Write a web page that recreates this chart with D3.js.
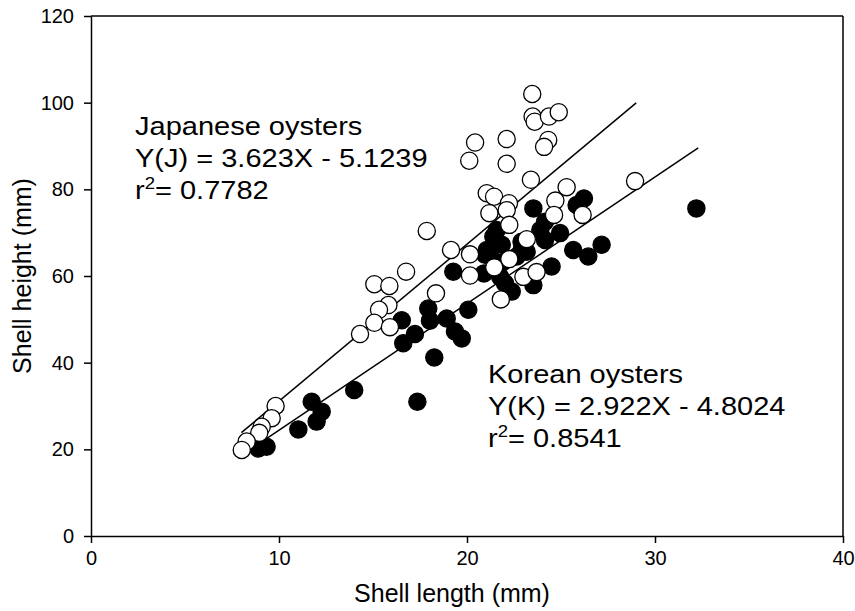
<!DOCTYPE html>
<html>
<head>
<meta charset="utf-8">
<script src="https://cdn.jsdelivr.net/npm/d3@7"></script>
<style>
  html, body { margin: 0; padding: 0; background: #fff; }
  svg { display: block; font-family: "Liberation Sans", Arial, sans-serif; }
</style>
</head>
<body>
<svg id="chart" width="855" height="611"></svg>
<script>
// ---- data ----
const xTicks = [0, 10, 20, 30, 40];
const yTicks = [0, 20, 40, 60, 80, 100, 120];

// Japanese oysters (open circles)
const japanX = [23.47, 23.49, 23.6, 24.36, 24.88, 24.32, 24.1, 20.43, 20.12, 22.11, 22.11, 23.4,
  17.86, 21.05, 21.44, 22.23, 21.19, 22.11, 22.25, 23.18, 25.3, 24.7, 24.63, 26.15, 28.94,
  19.15, 20.16, 22.25, 21.45, 20.16, 23.0, 23.7, 21.8, 18.35, 16.76, 15.07, 15.87, 15.82,
  15.32, 15.07, 15.9, 14.31, 9.82, 9.61, 9.08, 8.95, 8.28, 8.02];
const japanY = [102.0, 96.8, 95.6, 96.8, 97.8, 91.4, 89.8, 90.8, 86.6, 91.6, 85.9, 82.2,
  70.4, 79.1, 78.3, 76.8, 74.5, 75.2, 71.8, 68.5, 80.5, 77.4, 74.1, 74.1, 81.9,
  66.0, 65.0, 63.9, 62.0, 60.1, 59.8, 60.9, 54.6, 56.0, 61.0, 58.1, 57.7, 53.3,
  52.2, 49.2, 48.2, 46.6, 30.0, 27.2, 25.2, 23.8, 21.8, 19.85];

// Korean oysters (filled circles)
const koreaX = [8.9, 9.34, 11.03, 11.74, 12.27, 12.0, 14.0, 17.36, 18.26, 16.61, 16.53, 17.23,
  17.94, 18.03, 18.92, 19.72, 19.36, 20.07, 19.27, 20.96, 21.4, 21.58, 21.85, 21.2, 22.02,
  22.38, 23.53, 24.5, 24.15, 24.95, 25.65, 26.45, 27.16, 22.64, 22.9, 23.53, 26.22, 25.83,
  32.2, 21.76, 22.9, 21.9, 23.9, 24.15, 21.05, 20.9, 23.17];
const koreaY = [20.2, 20.6, 24.6, 31.0, 28.7, 26.4, 33.7, 31.0, 41.2, 44.5, 49.8, 46.6,
  52.5, 49.7, 50.2, 45.6, 47.2, 52.2, 61.0, 64.9, 69.1, 70.6, 67.2, 65.2, 58.3,
  56.4, 57.9, 62.2, 68.3, 69.9, 66.0, 64.5, 67.2, 64.5, 67.9, 75.6, 77.9, 76.4,
  75.6, 59.8, 66.0, 63.2, 70.6, 72.5, 66.0, 60.6, 65.6];

// regression fits (from the chart's equations) and their x-extent
const japanFit = { slope: 3.623, intercept: -5.1239, xRange: [8.0, 29.0] };
const koreaFit = { slope: 2.922, intercept: -4.8024, xRange: [8.9, 32.3] };

const japanLabel = ["Japanese oysters", "Y(J) = 3.623X - 5.1239", "0.7782"];
const koreaLabel = ["Korean oysters", "Y(K) = 2.922X - 4.8024", "0.8541"];

// ---- layout ----
const L = 91, R = 843, T = 16, B = 536;
const svg = d3.select("#chart");
const x = d3.scaleLinear().domain([0, 40]).range([L, R]);
const y = d3.scaleLinear().domain([0, 120]).range([B, T]);

// axes
const xAxis = svg.append("g").attr("transform", `translate(0,${B})`)
  .call(d3.axisBottom(x).tickValues(xTicks).tickSize(7).tickPadding(8).tickSizeOuter(0));
const yAxis = svg.append("g").attr("transform", `translate(${L},0)`)
  .call(d3.axisLeft(y).tickValues(yTicks).tickSize(7).tickPadding(10).tickSizeOuter(0));
[xAxis, yAxis].forEach(a => {
  a.select(".domain").attr("stroke", "#000").attr("stroke-width", 1.5);
  a.selectAll(".tick line").attr("stroke", "#000").attr("stroke-width", 1.5);
  a.selectAll(".tick text").attr("fill", "#000").style("font-size", "20px")
   .style("font-family", '"Liberation Sans", Arial, sans-serif');
});
// top and right frame
svg.append("line").attr("x1", L).attr("x2", R).attr("y1", T).attr("y2", T)
  .attr("stroke", "#000").attr("stroke-width", 1.5);
svg.append("line").attr("x1", R).attr("x2", R).attr("y1", T).attr("y2", B)
  .attr("stroke", "#000").attr("stroke-width", 1.5);

// axis titles
svg.append("text").attr("x", 452).attr("y", 602).attr("text-anchor", "middle")
  .style("font-size", "25px").text("Shell length (mm)");
svg.append("text").attr("transform", "translate(31,276) rotate(-90)")
  .attr("text-anchor", "middle").style("font-size", "25px").text("Shell height (mm)");

// regression lines
[japanFit, koreaFit].forEach(f => {
  const pts = f.xRange.map(v => [x(v), y(f.slope * v + f.intercept)]);
  svg.append("path").attr("d", d3.line()(pts))
    .attr("fill", "none").attr("stroke", "#000").attr("stroke-width", 1.5);
});

// points
const rad = 8.6;
svg.append("g").selectAll("circle").data(koreaX.map((v, i) => [v, koreaY[i]])).join("circle")
  .attr("cx", d => x(d[0])).attr("cy", d => y(d[1])).attr("r", rad)
  .attr("fill", "#000").attr("stroke", "#000").attr("stroke-width", 1.3);
svg.append("g").selectAll("circle").data(japanX.map((v, i) => [v, japanY[i]])).join("circle")
  .attr("cx", d => x(d[0])).attr("cy", d => y(d[1])).attr("r", rad)
  .attr("fill", "#fff").attr("stroke", "#000").attr("stroke-width", 1.3);

// annotations
const STRETCH = 1.16;
function label(lines, x0, y0) {
  const step = 31.8;
  lines.forEach((s, i) => {
    const t = svg.append("text").attr("x", x0).attr("y", y0 + i * step)
      .style("font-size", "25px").attr("fill", "#000");
    if (i < 2) {
      t.text(s);
    } else {
      t.append("tspan").text("r");
      t.append("tspan").attr("dy", -10).style("font-size", "16px").text("2");
      t.append("tspan").attr("dy", 10).text("= " + s);
    }
    const w = t.node().getComputedTextLength();
    t.attr("textLength", w * STRETCH).attr("lengthAdjust", "spacingAndGlyphs");
  });
}
label(japanLabel, 135, 135);
label(koreaLabel, 488, 383);
</script>
</body>
</html>
